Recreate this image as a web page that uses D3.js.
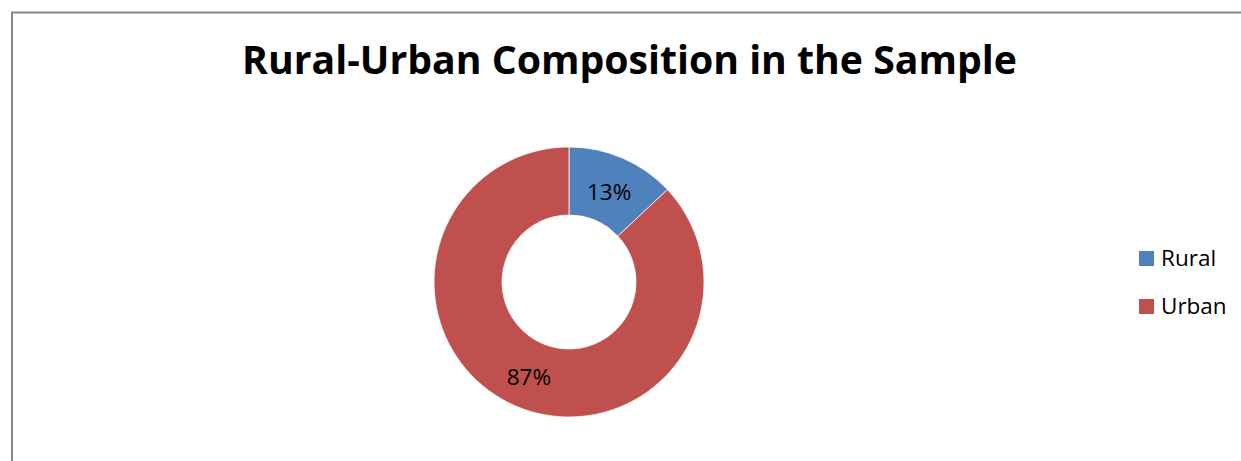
<!DOCTYPE html>
<html>
<head>
<meta charset="utf-8">
<script src="https://cdn.jsdelivr.net/npm/d3@7"></script>
<style>
  html, body { margin: 0; padding: 0; background: #fff; }
  svg { display: block; }
  text { font-family: "Open Sans", "Liberation Sans", sans-serif; fill: #000; }
</style>
</head>
<body>
<svg id="chart" width="1241" height="461"></svg>
<script>
const title = "Rural-Urban Composition in the Sample";
const categories = ["Rural", "Urban"];
const values = [13, 87];
const colors = ["#4F81BD", "#C0504D"];

const W = 1241, H = 461;
const svg = d3.select("#chart");

// chart area border (top & left visible)
svg.append("path")
  .attr("d", `M12,${H + 5} L12,12.5 L${W + 5},12.5`)
  .attr("fill", "none")
  .attr("stroke", "#878787")
  .attr("stroke-width", 2);

// title
const t = svg.append("text")
  .attr("x", 629.5)
  .attr("y", 74)
  .attr("text-anchor", "middle")
  .style("font-weight", "bold")
  .style("font-size", "36px")
  .text(title);
const tw = t.node().getComputedTextLength();
t.style("font-size", (36 * 775 / tw).toFixed(2) + "px");

// doughnut
const cx = 569, cy = 282, rOuter = 135, rInner = 67;
const pie = d3.pie().sort(null).value(d => d.value);
const data = pie(categories.map((c, i) => ({ cat: c, value: values[i] })));
const arc = d3.arc().innerRadius(rInner).outerRadius(rOuter);
const color = d3.scaleOrdinal().domain(categories).range(colors);

const g = svg.append("g").attr("transform", `translate(${cx},${cy})`);
g.selectAll("path.slice")
  .data(data)
  .join("path")
  .attr("class", "slice")
  .attr("d", arc)
  .attr("fill", d => color(d.data.cat))
  .attr("stroke", "#fff")
  .attr("stroke-width", 0.75);

const total = d3.sum(values);
g.selectAll("text.lbl")
  .data(data)
  .join("text")
  .attr("class", "lbl")
  .attr("transform", d => {
    const [x, y] = arc.centroid(d);
    return `translate(${x},${y + 2.5})`;
  })
  .attr("text-anchor", "middle")
  .attr("dy", "0.35em")
  .style("font-size", "22.5px")
  .text(d => Math.round(d.data.value / total * 100) + "%");

// legend
const lg = svg.append("g").attr("transform", "translate(1139,251)");
const items = lg.selectAll("g.item")
  .data(categories)
  .join("g")
  .attr("class", "item")
  .attr("transform", (d, i) => `translate(0,${i * 48})`);
items.append("rect")
  .attr("width", 15).attr("height", 15)
  .attr("fill", d => color(d));
items.append("text")
  .attr("x", 22).attr("y", 7.5)
  .attr("dy", "0.35em")
  .style("font-size", "22.5px")
  .text(d => d);
</script>
</body>
</html>
